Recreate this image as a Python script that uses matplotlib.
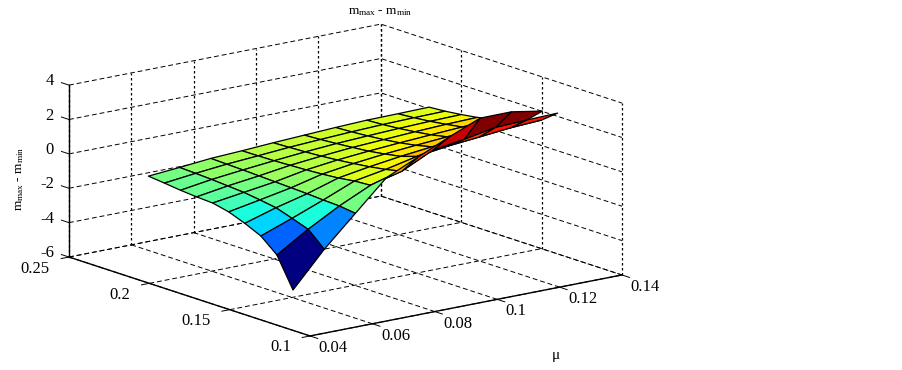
import numpy as np
import matplotlib
matplotlib.use('Agg')
import matplotlib.pyplot as plt
from mpl_toolkits.mplot3d import proj3d
from mpl_toolkits.mplot3d.art3d import Poly3DCollection

mu = [0.05, 0.06, 0.07, 0.08, 0.09, 0.10, 0.11, 0.12, 0.13, 0.14]
other = [0.13, 0.14, 0.15, 0.16, 0.17, 0.18, 0.19, 0.20, 0.21, 0.22]

# surface height, one row per value of other, columns follow mu
z_row0 = [-4.60, -2.59, -0.85, 0.88, 1.70, 2.52, 3.27, 3.28, 2.97, np.nan]
z_row1 = [-2.87, -1.73, -0.73, 0.12, 0.58, 1.46, 1.73, 2.07, 2.14, 2.19]
z_row2 = [-2.07, -1.40, -0.69, 0.06, 0.38, 0.78, 1.03, 1.20, 1.38, 1.48]
z_row3 = [-1.64, -1.09, -0.63, -0.07, 0.23, 0.48, 0.68, 0.88, 1.03, 1.13]
z_row4 = [-1.28, -0.94, -0.59, -0.15, 0.11, 0.31, 0.46, 0.60, 0.73, 0.83]
z_row5 = [-1.07, -0.81, -0.55, -0.21, 0.01, 0.17, 0.30, 0.41, 0.51, 0.59]
z_row6 = [-1.02, -0.74, -0.51, -0.25, -0.07, 0.08, 0.18, 0.28, 0.36, 0.41]
z_row7 = [-0.94, -0.67, -0.47, -0.29, -0.13, 0.00, 0.09, 0.17, 0.23, 0.27]
z_row8 = [-0.83, -0.62, -0.44, -0.31, -0.17, -0.07, 0.02, 0.09, 0.13, 0.16]
z_row9 = [-0.73, -0.58, -0.41, -0.32, -0.21, -0.12, -0.03, 0.04, 0.06, 0.09]

x_ticks = [0.04, 0.06, 0.08, 0.10, 0.12, 0.14]
x_labels = ['0.04', '0.06', '0.08', '0.1', '0.12', '0.14']
y_ticks = [0.10, 0.15, 0.20, 0.25]
y_labels = ['0.1', '0.15', '0.2', '0.25']
z_ticks = [-6, -4, -2, 0, 2, 4]
z_labels = ['-6', '-4', '-2', '0', '2', '4']

plt.rcParams['font.family'] = 'Liberation Serif'
plt.rcParams['mathtext.fontset'] = 'custom'
plt.rcParams['mathtext.rm'] = 'Liberation Serif'
plt.rcParams['mathtext.default'] = 'rm'

Z = np.array([z_row0, z_row1, z_row2, z_row3, z_row4,
              z_row5, z_row6, z_row7, z_row8, z_row9])

fig = plt.figure(figsize=(9.03, 3.70), dpi=100)
# axes are kept square and big enough that nothing gets clipped
ax = fig.add_axes([-14 / 903, -169.5 / 370, 700 / 903, 700 / 370], projection='3d')
ax.set_proj_type('ortho')
ax.view_init(elev=14.66, azim=-127.7)
ax.set_box_aspect((394.4, 394.4, 177.8), zoom=0.8114)
ax.patch.set_alpha(0)

ax.set_xlim(0.04, 0.14, view_margin=0)
ax.set_ylim(0.10, 0.25, view_margin=0)
ax.set_zlim(-6, 4, view_margin=0)

# flat jet faces, colour taken from the first corner of each cell
jet = plt.get_cmap('jet', 64)
c_min, c_max = -4.6, 3.0
polys = []
colors = []
for j in range(len(other) - 1):
    for i in range(len(mu) - 1):
        cell = Z[j:j + 2, i:i + 2]
        if np.isnan(cell).any():
            continue
        polys.append([(mu[i], other[j], Z[j, i]),
                      (mu[i + 1], other[j], Z[j, i + 1]),
                      (mu[i + 1], other[j + 1], Z[j + 1, i + 1]),
                      (mu[i], other[j + 1], Z[j + 1, i])])
        colors.append(jet((Z[j, i] - c_min) / (c_max - c_min)))
surf = Poly3DCollection(polys, facecolors=colors, edgecolors='k', linewidths=0.9)
ax.add_collection3d(surf, autolim=False)

ax.set_xticks(x_ticks, [''] * len(x_ticks))
ax.set_yticks(y_ticks, [''] * len(y_ticks))
ax.set_zticks(z_ticks, [''] * len(z_ticks))

for axis in [ax.xaxis, ax.yaxis, ax.zaxis]:
    axis.set_pane_color((1, 1, 1, 0))
    axis.pane.set_edgecolor((1, 1, 1, 0))
    axis.line.set_color('k')
    axis.line.set_linewidth(1.0)
    axis._axinfo['tick'].update(inward_factor=0.0, outward_factor=0.0)

# z grid stays native, x and y grid are split into dashed floor and dotted walls
dash = (0, (5, 3))
dots = (0, (2, 2))
ax.zaxis._axinfo['grid'].update(color='k', linestyle=dash, linewidth=0.7)
ax.xaxis._axinfo['grid'].update(linewidth=0)
ax.yaxis._axinfo['grid'].update(linewidth=0)
for t in x_ticks:
    ax.plot([t, t], [0.10, 0.25], [-6, -6], color='k', linestyle=dash, linewidth=0.7)
    ax.plot([t, t], [0.25, 0.25], [-6, 4], color='k', linestyle=dots, linewidth=0.9)
for t in y_ticks:
    ax.plot([0.04, 0.14], [t, t], [-6, -6], color='k', linestyle=dash, linewidth=0.7)
    ax.plot([0.14, 0.14], [t, t], [-6, 4], color='k', linestyle=dots, linewidth=0.9)

# short outward tick marks, the native ones lie on top of the grid
for t in x_ticks:
    ax.plot([t, t], [0.10, 0.0953], [-6, -6], color='k', linewidth=0.7)
for t in y_ticks:
    ax.plot([0.04, 0.0375], [t, t], [-6, -6], color='k', linewidth=0.7)
for t in z_ticks:
    ax.plot([0.04, 0.04], [0.25, 0.2547], [t, t], color='k', linewidth=0.7)


def tick_label(text, x, y, z, dx, dy, ha):
    # offsets are in pixels from the projected tick
    px, py, _ = proj3d.proj_transform(x, y, z, ax.get_proj())
    ax.annotate(text, (px, py), xytext=(dx * 0.72, dy * 0.72), textcoords='offset points',
                fontsize=12, ha=ha, va='center')


for tick, label in zip(x_ticks, x_labels):
    tick_label(label, tick, 0.10, -6, 8.5, -12, 'left')
for tick, label in zip(y_ticks, y_labels):
    tick_label(label, 0.04, tick, -6, -19, -11.5, 'right')
for tick, label in zip(z_ticks, z_labels):
    tick_label(label, 0.04, 0.25, tick, -15, 4, 'right')

fig.text(380 / 903, 1 - 12 / 370, r'm$_{max}$ - m$_{min}$', fontsize=9.5, ha='center', va='center')
fig.text(20 / 903, 1 - 179 / 370, r'm$_{max}$ - m$_{min}$', fontsize=9.5, ha='center', va='center', rotation=90)
fig.text(556 / 903, 1 - 356 / 370, 'μ', fontsize=11, ha='center', va='center')

fig.savefig('out.png', dpi=100)
